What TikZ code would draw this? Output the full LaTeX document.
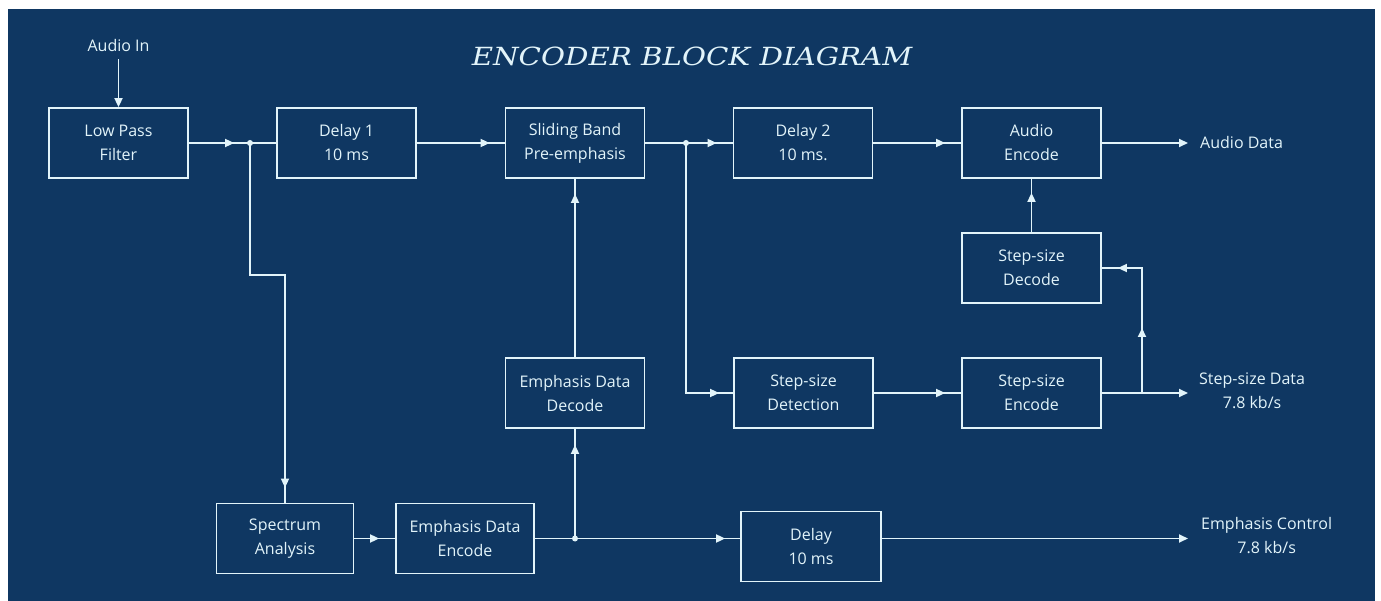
\documentclass[tikz,border=0pt]{standalone}
\usepackage{fontspec}
\setmainfont{Open Sans}
\newfontfamily\titlefont{DejaVu Serif}
\usetikzlibrary{arrows.meta,decorations.markings}
\definecolor{panel}{HTML}{0F3762}
\definecolor{ink}{HTML}{E2F4FA}
\tikzset{
  block/.style={draw=ink, line width=1.8pt, rectangle, minimum width=139pt,
    minimum height=70pt, align=center, text=ink, inner sep=0pt,
    font=\fontsize{16}{24}\selectfont},
  lbl/.style={text=ink, align=center, inner sep=0pt,
    font=\fontsize{16}{24}\selectfont},
  wire/.style={draw=ink, line width=1.8pt},
  endtip/.style={-{Triangle[length=9pt,width=8pt]}},
  midtip/.style={postaction={decorate}, decoration={markings,
    mark=at position #1 with {\arrow{Triangle[length=9pt,width=8pt]}}}},
  twotips/.style 2 args={postaction={decorate}, decoration={markings,
    mark=at position #1 with {\arrow{Triangle[length=9pt,width=8pt]}},
    mark=at position #2 with {\arrow{Triangle[length=9pt,width=8pt]}}}},
  dot/.style={circle, fill=ink, inner sep=0pt, minimum size=6pt},
}
\begin{document}
\begin{tikzpicture}[x=1pt,y=-1pt]
  % paper edge and panel
  \useasboundingbox (0,0) rectangle (1381,601);
  \fill[white] (0,0) rectangle (1381,601);
  \fill[panel] (7.5,9) rectangle (1374.5,601);

  % title
  \node[text=ink] (title) at (692,56)
    {\scalebox{1.17}[1]{\titlefont\itshape\fontsize{25}{25}\selectfont ENCODER BLOCK DIAGRAM}};

  % blocks
  \node[block] (lpf) at (118.5,143) {Low Pass\\Filter};
  \node[block] (d1)  at (346.5,143) {Delay 1\\10 ms};
  \node[block] (sb)  at (575,143)   {Sliding Band\\Pre-emphasis};
  \node[block] (d2)  at (803,143)   {Delay 2\\10 ms.};
  \node[block] (ae)  at (1031.5,143) {Audio\\Encode};
  \node[block] (ssd) at (1031.5,268) {Step-size\\Decode};
  \node[block] (sse) at (1031.5,393) {Step-size\\Encode};
  \node[block] (det) at (803.5,393) {Step-size\\Detection};
  \node[block] (edd) at (575,393)   {Emphasis Data\\Decode};
  \node[block, minimum width=137pt] (sa)  at (285,538.5) {Spectrum\\Analysis};
  \node[block, minimum width=138pt] (ede) at (465,538.5) {Emphasis Data\\Encode};
  \node[block, minimum width=140pt] (dl)  at (811,546.5) {Delay\\10 ms};

  % external labels
  \node[lbl] (ain) at (118.5,46) {Audio In};
  \node[lbl, anchor=west] (aout) at (1200,143) {Audio Data};
  \node[lbl, anchor=west] (sout) at (1199,391) {Step-size Data\\7.8 kb/s};
  \node[lbl, anchor=west] (eout) at (1201,536) {Emphasis Control\\7.8 kb/s};

  % junctions and free ends
  \node[dot] (j1) at (250,143) {};
  \node[dot] (j2) at (686,143) {};
  \node[dot] (j3) at (575,538.5) {};
  \coordinate (j4) at (1142,393);
  \coordinate (oa) at (1188,143);
  \coordinate (os) at (1188,393);
  \coordinate (oe) at (1188,538.5);

  % top signal path
  \draw[wire, endtip] ([yshift=-7pt]ain.south) -- (lpf.north);
  \draw[wire, midtip=-42pt] (lpf) -- (d1);
  \draw[wire, midtip=-15pt] (d1) -- (sb);
  \draw[wire, midtip=-16pt] (sb) -- (d2);
  \draw[wire, midtip=-16pt] (d2) -- (ae);
  \draw[wire, endtip] (ae.east) -- (oa);

  % spectrum branch
  \draw[wire, midtip=-15pt] (j1.center) -- ++(0,132) -| (sa.north);
  \draw[wire, midtip=-16pt] (sa) -- (ede);
  \draw[wire, midtip=-15pt] (ede.east) -- (dl.west |- ede.east);
  \draw[wire, endtip] (dl.east |- ede.east) -- (oe);
  \draw[wire, midtip=-16pt] (j3.center) -- (edd.south);
  \draw[wire, midtip=-15pt] (edd) -- (sb);

  % step-size branch
  \draw[wire, midtip=-14pt] (j2.center) |- (det.west);
  \draw[wire, midtip=-16pt] (det) -- (sse);
  \draw[wire, endtip] (sse.east) -- (os);
  \draw[wire, twotips={65pt}{-16pt}] (j4) |- (ssd.east);
  \draw[wire, midtip=-14pt] (ssd) -- (ae);
\end{tikzpicture}
\end{document}
